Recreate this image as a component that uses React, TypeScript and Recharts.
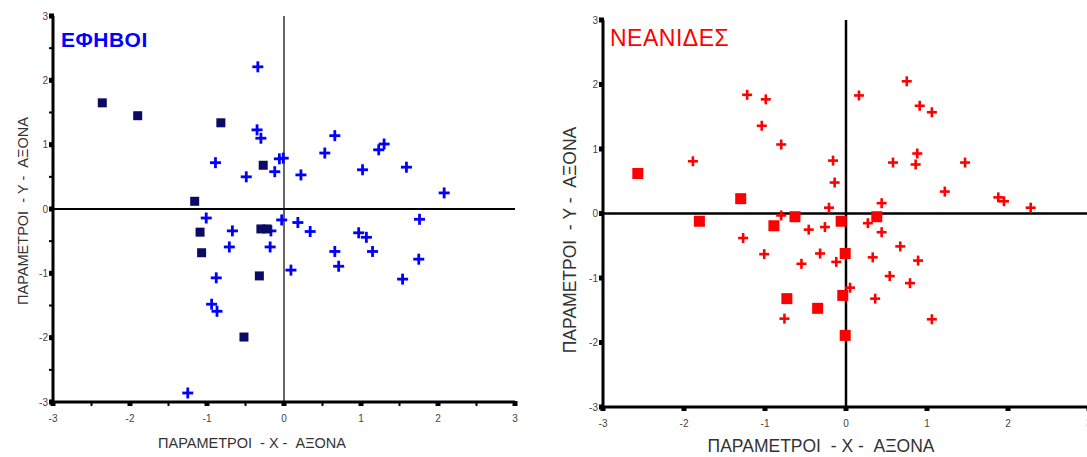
import {
  ScatterChart,
  Scatter,
  XAxis,
  YAxis,
  ReferenceLine,
} from "recharts";

// ΕΦΗΒΟΙ: crosses and squares
const boysPlusX = [-0.34, -0.35, -0.3, -0.89, -0.49, -0.12, -0.06, -0.01, 0.22, 0.53, 0.66, 1.02, 1.23, 1.3, 1.59, 2.08, -1.01, -0.67, -0.71, -0.17, -0.18, -0.03, -0.88, -0.94, -0.87, -1.25, 0.18, 0.34, 0.09, 0.66, 0.71, 0.97, 1.07, 1.15, 1.76, 1.75, 1.54];
const boysPlusY = [2.21, 1.23, 1.1, 0.72, 0.5, 0.58, 0.78, 0.79, 0.53, 0.87, 1.14, 0.61, 0.92, 1.01, 0.65, 0.25, -0.14, -0.34, -0.59, -0.34, -0.59, -0.17, -1.07, -1.48, -1.59, -2.86, -0.21, -0.35, -0.95, -0.66, -0.89, -0.37, -0.44, -0.66, -0.16, -0.78, -1.09];
const boysSqX = [-2.36, -1.9, -0.82, -0.27, -1.16, -1.09, -1.07, -0.3, -0.22, -0.32, -0.52];
const boysSqY = [1.65, 1.45, 1.34, 0.68, 0.12, -0.36, -0.68, -0.31, -0.31, -1.04, -1.99];

// ΝΕΑΝΙΔΕΣ: crosses and squares
const girlsPlusX = [-1.89, -1.22, -0.99, -1.04, -0.8, -0.16, -0.14, -0.21, 0.16, 0.75, 0.91, 1.06, 0.58, 0.88, 0.86, 1.47, 1.22, 0.44, 1.88, 1.95, 2.28, -0.8, -1.27, -1.01, -0.55, -0.46, -0.26, -0.32, -0.12, -0.76, 0.27, 0.44, 0.67, 0.89, 0.33, 0.54, 0.79, 0.36, 1.06, 0.05];
const girlsPlusY = [0.81, 1.84, 1.77, 1.36, 1.07, 0.82, 0.48, 0.09, 1.83, 2.05, 1.67, 1.57, 0.79, 0.93, 0.76, 0.79, 0.34, 0.16, 0.25, 0.19, 0.09, -0.03, -0.38, -0.63, -0.78, -0.25, -0.21, -0.62, -0.75, -1.63, -0.15, -0.29, -0.51, -0.73, -0.68, -0.97, -1.08, -1.32, -1.64, -1.15];
const girlsSqX = [-2.57, -1.3, -1.81, -0.89, -0.63, -0.06, -0.01, -0.73, -0.35, -0.04, -0.01, 0.38];
const girlsSqY = [0.62, 0.23, -0.12, -0.19, -0.05, -0.12, -0.62, -1.32, -1.47, -1.27, -1.89, -0.05];

const axisTicks = [-3, -2, -1, 0, 1, 2, 3];
const halfTicks = [-3, -2.5, -2, -1.5, -1, -0.5, 0, 0.5, 1, 1.5, 2, 2.5, 3];

const zip = (xs: number[], ys: number[]) => xs.map((x, i) => ({ x, y: ys[i] }));

const FONT = '"Liberation Sans", Arial, sans-serif';
const AXIS_TEXT = "ΠΑΡΑΜΕΤΡΟΙ  - X -  ΑΞΟΝΑ";
const AXIS_TEXT_Y = "ΠΑΡΑΜΕΤΡΟΙ  - Y -  ΑΞΟΝΑ";

function plusShape(color: string, arm: number, sw: number) {
  return (p: any) => (
    <g>
      <line x1={p.cx - arm} x2={p.cx + arm} y1={p.cy} y2={p.cy} stroke={color} strokeWidth={sw} />
      <line x1={p.cx} x2={p.cx} y1={p.cy - arm} y2={p.cy + arm} stroke={color} strokeWidth={sw} />
    </g>
  );
}

function squareShape(color: string, size: number) {
  return (p: any) => (
    <rect x={p.cx - size / 2} y={p.cy - size / 2} width={size} height={size} fill={color} />
  );
}

type PanelProps = {
  width: number;
  height: number;
  top: number;
  right: number;
  bottomSpace: number;
  yAxisWidth: number;
  minor: boolean;
  frame: string;
  frameWidth: number;
  axisWidth: number;
  zeroX: number;
  zeroY: number;
  labelSize: number;
  yLabelX: number;
  yLabelY: number;
  xLabelX: number;
  xLabelY: number;
  children: React.ReactNode;
};

function Panel(props: PanelProps) {
  const { width, height, yAxisWidth, minor } = props;
  const plotLeft = yAxisWidth;
  const plotBottom = height - props.bottomSpace;
  const ticks = minor ? halfTicks : axisTicks;

  const xTick = (p: any) => {
    const v = p.payload.value;
    const c = p.payload.coordinate;
    const isInt = Number.isInteger(v);
    return (
      <g>
        {isInt ? (
          <rect x={c - 2.5} y={plotBottom - 1} width={5} height={5} fill="#000" />
        ) : (
          <line x1={c} x2={c} y1={plotBottom} y2={plotBottom + 4} stroke="#000" strokeWidth={2} />
        )}
        {isInt && (
          <text x={c} y={plotBottom + 20} textAnchor="middle" fontSize={10} fill="#444" fontFamily={FONT}>
            {v}
          </text>
        )}
      </g>
    );
  };

  const yTick = (p: any) => {
    const v = p.payload.value;
    const c = p.payload.coordinate;
    const isInt = Number.isInteger(v);
    return (
      <g>
        {isInt ? (
          <rect x={plotLeft - 4} y={c - 2.5} width={5} height={5} fill="#000" />
        ) : (
          <line x1={plotLeft - 4} x2={plotLeft} y1={c} y2={c} stroke="#000" strokeWidth={2} />
        )}
        {isInt && (
          <text x={plotLeft - 5} y={c + 3.5} textAnchor="end" fontSize={10} fill="#444" fontFamily={FONT}>
            {v}
          </text>
        )}
      </g>
    );
  };

  return (
    <ScatterChart width={width} height={height} margin={{ top: props.top, right: props.right, bottom: 0, left: 0 }}>
      <XAxis
        type="number"
        dataKey="x"
        domain={[-3, 3]}
        ticks={ticks}
        allowDataOverflow
        axisLine={{ stroke: "#000", strokeWidth: props.axisWidth }}
        tickLine={false}
        tick={xTick}
        height={props.bottomSpace}
        interval={0}
        label={{
          content: () => (
            <text
              x={props.xLabelX}
              y={props.xLabelY}
              textAnchor="middle"
              dominantBaseline="central"
              fill="#333"
              fontSize={props.labelSize}
              fontFamily={FONT}
              style={{ whiteSpace: "pre" }}
            >
              {AXIS_TEXT}
            </text>
          ),
        }}
      />
      <YAxis
        type="number"
        dataKey="y"
        domain={[-3, 3]}
        ticks={ticks}
        allowDataOverflow
        axisLine={{ stroke: "#000", strokeWidth: props.axisWidth }}
        tickLine={false}
        tick={yTick}
        width={yAxisWidth}
        interval={0}
        label={{
          content: () => (
            <text
              x={props.yLabelX}
              y={props.yLabelY}
              transform={`rotate(-90 ${props.yLabelX} ${props.yLabelY})`}
              textAnchor="middle"
              dominantBaseline="central"
              fill="#333"
              fontSize={props.labelSize}
              fontFamily={FONT}
              style={{ whiteSpace: "pre" }}
            >
              {AXIS_TEXT_Y}
            </text>
          ),
        }}
      />
      <XAxis xAxisId="top" orientation="top" type="number" domain={[-3, 3]} height={0} tick={false} tickLine={false} axisLine={{ stroke: props.frame, strokeWidth: props.frameWidth }} />
      <YAxis yAxisId="right" orientation="right" type="number" domain={[-3, 3]} width={0} tick={false} tickLine={false} axisLine={{ stroke: props.frame, strokeWidth: props.frameWidth }} />
      <ReferenceLine x={0} stroke="#000" strokeWidth={props.zeroX} />
      <ReferenceLine y={0} stroke="#000" strokeWidth={props.zeroY} />
      {props.children}
    </ScatterChart>
  );
}

export default function App() {
  return (
    <div style={{ position: "absolute", left: 0, top: 0, width: 1087, height: 457, overflow: "hidden", background: "#fff" }}>
      <div style={{ position: "absolute", left: 0, top: 0 }}>
        <Panel
          width={535}
          height={457}
          top={16}
          right={20}
          bottomSpace={55}
          yAxisWidth={53}
          minor
          frame="#333"
          frameWidth={2}
          axisWidth={3}
          zeroX={1.2}
          zeroY={2}
          labelSize={14.5}
          yLabelX={23}
          yLabelY={211}
          xLabelX={252}
          xLabelY={443}
        >
          <Scatter data={zip(boysPlusX, boysPlusY)} shape={plusShape("#0000ff", 5.5, 2.8)} isAnimationActive={false} />
          <Scatter data={zip(boysSqX, boysSqY)} shape={squareShape("#0b0b66", 9)} isAnimationActive={false} />
        </Panel>
        <div style={{ position: "absolute", left: 61, top: 28, color: "#0000ff", fontFamily: FONT, fontSize: 21, fontWeight: "bold", letterSpacing: 0.5 }}>
          ΕΦΗΒΟΙ
        </div>
      </div>
      <div style={{ position: "absolute", left: 540, top: 0, width: 547, height: 457, overflow: "hidden" }}>
        <Panel
          width={550}
          height={457}
          top={20}
          right={1}
          bottomSpace={50}
          yAxisWidth={63}
          minor={false}
          frame="#000"
          frameWidth={2.5}
          axisWidth={3}
          zeroX={2.5}
          zeroY={2.5}
          labelSize={17.5}
          yLabelX={30}
          yLabelY={240}
          xLabelX={281}
          xLabelY={446}
        >
          <Scatter data={zip(girlsPlusX, girlsPlusY)} shape={plusShape("#ff0000", 5, 2.6)} isAnimationActive={false} />
          <Scatter data={zip(girlsSqX, girlsSqY)} shape={squareShape("#ff0000", 11)} isAnimationActive={false} />
        </Panel>
        <div style={{ position: "absolute", left: 70, top: 25, color: "#ff0000", fontFamily: FONT, fontSize: 23, letterSpacing: 0.5 }}>
          ΝΕΑΝΙΔΕΣ
        </div>
      </div>
    </div>
  );
}
